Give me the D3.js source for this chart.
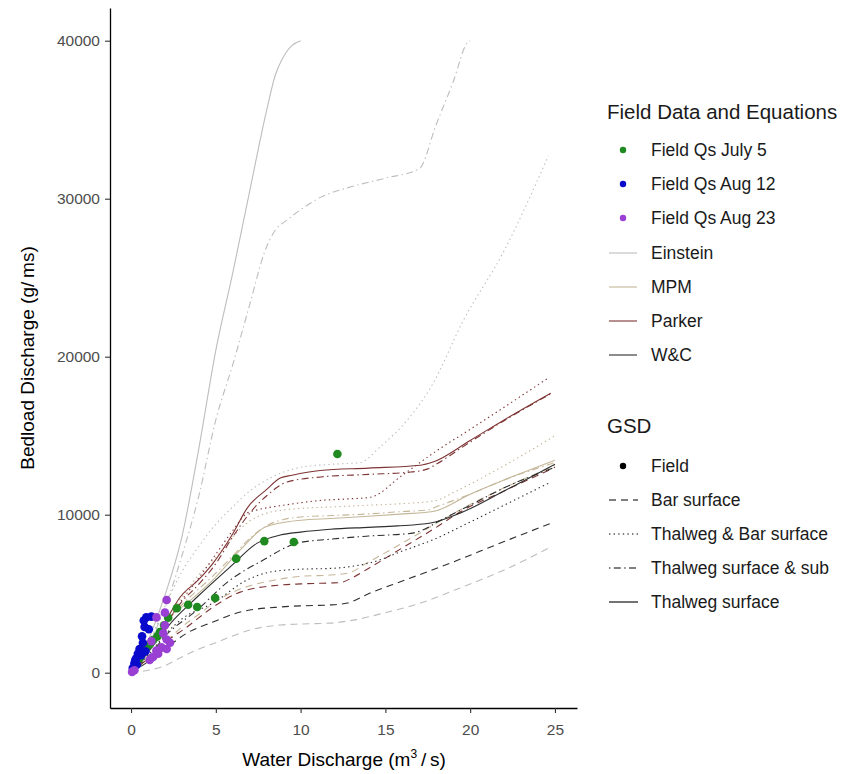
<!DOCTYPE html>
<html>
<head>
<meta charset="utf-8">
<script src="https://cdn.jsdelivr.net/npm/d3@7"></script>
<style>
  body { margin: 0; background: #fff; }
  svg { font-family: "Liberation Sans", Arial, sans-serif; }
</style>
</head>
<body>
<svg id="chart" width="853" height="774"></svg>
<script>
// ---------------- DATA (Water discharge m3/s, Bedload discharge g/ms) ----------------
const xTicks = [0, 5, 10, 15, 20, 25];
const yTicks = [0, 10000, 20000, 30000, 40000];

const fieldJuly5 = [[12.17,13840],[9.6,8270],[7.86,8330],[6.2,7220],[4.96,4730],[3.9,4160],[3.37,4300],[2.7,4080],[2.19,3480],[1.95,3000],[1.7,2570],[1.55,2300],[1.3,2070],[1.1,1800],[0.94,1700],[0.7,1450],[0.53,930],[0.41,900]];
const fieldAug12 = [[0.9,3500],[1.2,3550],[0.75,3300],[0.8,2900],[1.05,2750],[0.65,2300],[0.7,1900],[0.5,1500],[0.4,1200],[0.3,900],[0.2,600],[0.1,300],[0.35,500],[0.6,1100],[0.85,1350],[0.25,800]];
const fieldAug23 = [[2.1,4600],[2.0,3800],[1.5,3500],[2.0,3000],[1.9,2500],[2.3,1900],[2.1,2100],[1.8,1600],[2.1,1500],[1.5,1400],[1.3,1000],[1.1,800],[1.6,1200],[0.06,50],[0.2,150],[1.2,2000]];

// Einstein
const einsteinSurface = [[0,0],[0.5,800],[1,2000],[2,4900],[3,8600],[4,14200],[5,20400],[6,25300],[7,30500],[8,35600],[8.5,37800],[8.9,38800],[9.5,39700],[10,40000]];
const einsteinSurfSub = [[0,0],[1,1700],[2,4100],[3,7400],[4,11200],[5,16000],[6,19500],[7,23300],[7.9,26700],[8.5,28000],[9.2,28650],[10,29300],[11.2,30100],[12.8,30700],[15,31300],[17,31900],[18,34700],[19,37400],[19.85,39900],[20,40000]];
const einsteinThalBar = [[0,0],[1,1800],[2,4200],[3,6400],[4,8000],[5,9400],[6,10500],[7,11500],[8,12200],[9,12700],[10,13000],[12,13200],[13.5,13300],[14.7,14300],[16.3,16000],[17.7,18100],[19.6,22300],[22,26700],[24.6,32700]];
const einsteinBar = [[0,0],[1,150],[1.9,400],[3,1000],[3.9,1450],[5,1900],[5.85,2260],[7,2700],[8.8,3020],[10,3080],[11.75,3140],[13.1,3330],[15,3800],[17.07,4410],[19.4,5360],[22,6500],[24.75,7950]];
// MPM
const mpmSurface = [[0,0],[1,1300],[2.3,3530],[3.3,4400],[4.84,5870],[6.44,7770],[7.8,9150],[8.8,9470],[10,9650],[11.75,9760],[14,9900],[16.07,10050],[17.8,10200],[20,11300],[22,12200],[25,13450]];
const mpmSurfSub = [[0,0],[1,1200],[2,3000],[3,4300],[4,5300],[5,6300],[6,7400],[7,8500],[8,9300],[9,9700],[10,9850],[12,9950],[14,10050],[16,10200],[17.5,10300],[18,10500],[20,11300],[22,12200],[25,13300]];
const mpmThalBar = [[0,0],[1,1500],[2,3300],[3,4800],[4,6200],[5,7300],[6,8600],[7,9600],[8,10100],[9,10300],[10,10400],[12,10500],[14,10600],[16,10700],[18,10900],[19,11400],[22,13100],[25,15000]];
const mpmBar = [[0,0],[1,900],[2,1900],[3,2900],[4,3700],[5,4500],[6,5100],[7,5500],[8.4,5850],[10,6100],[11.75,6180],[12.8,6310],[14,7000],[16,8200],[18,9450],[19.4,10300],[22,11700],[25,13100]];
// Parker
const parkerSurface = [[0,0],[0.5,700],[1,1500],[2,3200],[2.9,4790],[4,5900],[4.84,6940],[6,8800],[6.85,10420],[8,11600],[8.8,12320],[9.5,12500],[11.16,12800],[14,12950],[17.07,13130],[17.8,13330],[20,14700],[22,16000],[24.75,17690]];
const parkerSurfSub = [[0,0],[1,1400],[2,3000],[3,4500],[4,5600],[5,6900],[6,8600],[7,10100],[8,11200],[9.2,12070],[11.2,12390],[14,12550],[16.5,12700],[17.5,12900],[18,13200],[20,14600],[22,15950],[24.75,17650]];
const parkerThalBar = [[0,0],[1,1300],[2,3000],[3,4600],[4,6000],[5,7500],[6,9000],[6.85,10100],[7.4,10290],[9,10600],[11.16,10900],[12.76,11000],[14.1,11100],[16,12500],[18.1,14100],[20,15400],[22,16800],[24.6,18650]];
const parkerBar = [[0,0],[1,900],[2,1900],[3.3,2890],[4.84,4160],[6.44,5100],[8.8,5550],[10,5620],[11.75,5680],[12.3,5700],[13.1,6040],[14,6600],[16,7900],[18,9200],[19.4,10170],[22,11500],[25,13000]];
// W&C
const wcSurface = [[0,0],[1,1300],[2.5,3330],[3.9,4790],[5.85,6700],[7.44,8200],[8.8,8710],[10,8900],[11.75,9080],[14,9200],[15.7,9290],[17.66,9470],[19.4,10100],[22,11500],[25,13200]];
const wcSurfSub = [[0,0],[1,1000],[2,2300],[3.9,3970],[5.85,5870],[7.8,7130],[9.8,8200],[11.75,8450],[14,8650],[16.5,8820],[17.2,9030],[18,9500],[20,10600],[22,11700],[25,13000]];
const wcThalBar = [[0,0],[1,1100],[2,2400],[3,3400],[4.84,4410],[6.85,5870],[8.2,6370],[10,6550],[11.75,6600],[12.76,6690],[14.3,7010],[16,7700],[18,8500],[19.4,9220],[22,10600],[24.75,12060]];
const wcBar = [[0,0],[1,700],[2,1500],[3.3,2510],[4.84,3210],[6.44,3840],[8.8,4160],[10,4230],[11.75,4290],[12.76,4410],[14.1,5040],[16,5800],[19,7010],[22,8300],[24.75,9450]];

const equationNames = ["Einstein", "MPM", "Parker", "W&C"];
const gsdNames = ["Field", "Bar surface", "Thalweg & Bar surface", "Thalweg surface & sub", "Thalweg surface"];
const fieldNames = ["Field Qs July 5", "Field Qs Aug 12", "Field Qs Aug 23"];

// ---------------- STYLES ----------------
const eqColor = { "Einstein": "#bdbdbd", "MPM": "#c4b698", "Parker": "#7e3434", "W&C": "#2e2e2e" };
const gsdDash = { "Bar surface": "7,5", "Thalweg & Bar surface": "1.4,3.2", "Thalweg surface & sub": "1.4,3.4,7,3.4", "Thalweg surface": null };
const fieldColor = { "Field Qs July 5": "#1f8a1f", "Field Qs Aug 12": "#0a0acc", "Field Qs Aug 23": "#9a3fd4" };

const lineSeries = [
  { eq: "Einstein", gsd: "Bar surface", data: einsteinBar },
  { eq: "Einstein", gsd: "Thalweg & Bar surface", data: einsteinThalBar },
  { eq: "Einstein", gsd: "Thalweg surface & sub", data: einsteinSurfSub },
  { eq: "Einstein", gsd: "Thalweg surface", data: einsteinSurface },
  { eq: "MPM", gsd: "Bar surface", data: mpmBar },
  { eq: "MPM", gsd: "Thalweg & Bar surface", data: mpmThalBar },
  { eq: "MPM", gsd: "Thalweg surface & sub", data: mpmSurfSub },
  { eq: "MPM", gsd: "Thalweg surface", data: mpmSurface },
  { eq: "Parker", gsd: "Bar surface", data: parkerBar },
  { eq: "Parker", gsd: "Thalweg & Bar surface", data: parkerThalBar },
  { eq: "Parker", gsd: "Thalweg surface & sub", data: parkerSurfSub },
  { eq: "Parker", gsd: "Thalweg surface", data: parkerSurface },
  { eq: "W&C", gsd: "Bar surface", data: wcBar },
  { eq: "W&C", gsd: "Thalweg & Bar surface", data: wcThalBar },
  { eq: "W&C", gsd: "Thalweg surface & sub", data: wcSurfSub },
  { eq: "W&C", gsd: "Thalweg surface", data: wcSurface }
];
const pointSeries = [
  { name: "Field Qs July 5", data: fieldJuly5 },
  { name: "Field Qs Aug 12", data: fieldAug12 },
  { name: "Field Qs Aug 23", data: fieldAug23 }
];

// ---------------- CHART ----------------
const svg = d3.select("#chart");
const x = d3.scaleLinear().domain([-1.24, 26.3]).range([110, 577]);
const y = d3.scaleLinear().domain([-2234, 42070]).range([708, 8]);

const line = d3.line().x(d => x(d[0])).y(d => y(d[1])).curve(d3.curveMonotoneX);

const gLines = svg.append("g");
lineSeries.forEach(s => {
  gLines.append("path")
    .attr("d", line(s.data))
    .attr("fill", "none")
    .attr("stroke", eqColor[s.eq])
    .attr("stroke-width", 1.1)
    .attr("stroke-dasharray", gsdDash[s.gsd]);
});

const gPts = svg.append("g");
pointSeries.forEach(s => {
  gPts.selectAll(null).data(s.data).enter().append("circle")
    .attr("cx", d => x(d[0]))
    .attr("cy", d => y(d[1]))
    .attr("r", 4.3)
    .attr("fill", fieldColor[s.name]);
});

// axes
const xAxis = svg.append("g").attr("transform", "translate(0,708)")
  .call(d3.axisBottom(x).tickValues(xTicks).tickSize(5).tickPadding(11).tickSizeOuter(0));
const yAxis = svg.append("g").attr("transform", "translate(110,0)")
  .call(d3.axisLeft(y).tickValues(yTicks).tickFormat(d3.format("d")).tickSize(5).tickPadding(5).tickSizeOuter(0));
[xAxis, yAxis].forEach(a => {
  a.select(".domain").attr("stroke", "#000").attr("stroke-width", 1.3);
  a.selectAll(".tick line").attr("stroke", "#333").attr("stroke-width", 1.1);
  a.selectAll(".tick text").attr("fill", "#4d4d4d").style("font-size", "15.5px").style("font-family", "'Liberation Sans', Arial, sans-serif");
});

// axis titles
const xt = svg.append("text").attr("x", 344).attr("y", 766).attr("text-anchor", "middle")
  .style("font-size", "19px").attr("fill", "#000");
xt.append("tspan").text("Water Discharge (m");
xt.append("tspan").attr("dy", -8).style("font-size", "12px").text("3");
xt.append("tspan").attr("dy", 8).text("\u2009/\u2009s)");

svg.append("text").attr("transform", "translate(34,358) rotate(-90)").attr("text-anchor", "middle")
  .style("font-size", "19px").attr("fill", "#000").text("Bedload Discharge (g/\u2009ms)");

// ---------------- LEGENDS ----------------
const leg = svg.append("g");
leg.append("text").attr("x", 607).attr("y", 119).style("font-size", "20.5px").attr("fill", "#1a1a1a").text("Field Data and Equations");
const rowY1 = [150, 184, 218, 253, 287, 321, 355];
fieldNames.forEach((n, i) => {
  leg.append("circle").attr("cx", 623).attr("cy", rowY1[i]).attr("r", 3.2).attr("fill", fieldColor[n]);
  leg.append("text").attr("x", 651).attr("y", rowY1[i]).attr("dy", "0.36em").style("font-size", "17.5px").attr("fill", "#1a1a1a").text(n);
});
equationNames.forEach((n, i) => {
  const yy = rowY1[i + 3];
  leg.append("line").attr("x1", 609).attr("x2", 637).attr("y1", yy).attr("y2", yy).attr("stroke", eqColor[n]).attr("stroke-width", 1.1);
  leg.append("text").attr("x", 651).attr("y", yy).attr("dy", "0.36em").style("font-size", "17.5px").attr("fill", "#1a1a1a").text(n);
});

leg.append("text").attr("x", 607).attr("y", 433).style("font-size", "20.5px").attr("fill", "#1a1a1a").text("GSD");
const rowY2 = [466, 500, 534, 568, 602];
gsdNames.forEach((n, i) => {
  const yy = rowY2[i];
  if (n === "Field") {
    leg.append("circle").attr("cx", 623).attr("cy", yy).attr("r", 3.2).attr("fill", "#000");
  } else {
    leg.append("line").attr("x1", 609).attr("x2", 638).attr("y1", yy).attr("y2", yy)
      .attr("stroke", "#000").attr("stroke-width", 1.1).attr("stroke-dasharray", gsdDash[n]);
  }
  leg.append("text").attr("x", 651).attr("y", yy).attr("dy", "0.36em").style("font-size", "17.5px").attr("fill", "#1a1a1a").text(n);
});
</script>
</body>
</html>
